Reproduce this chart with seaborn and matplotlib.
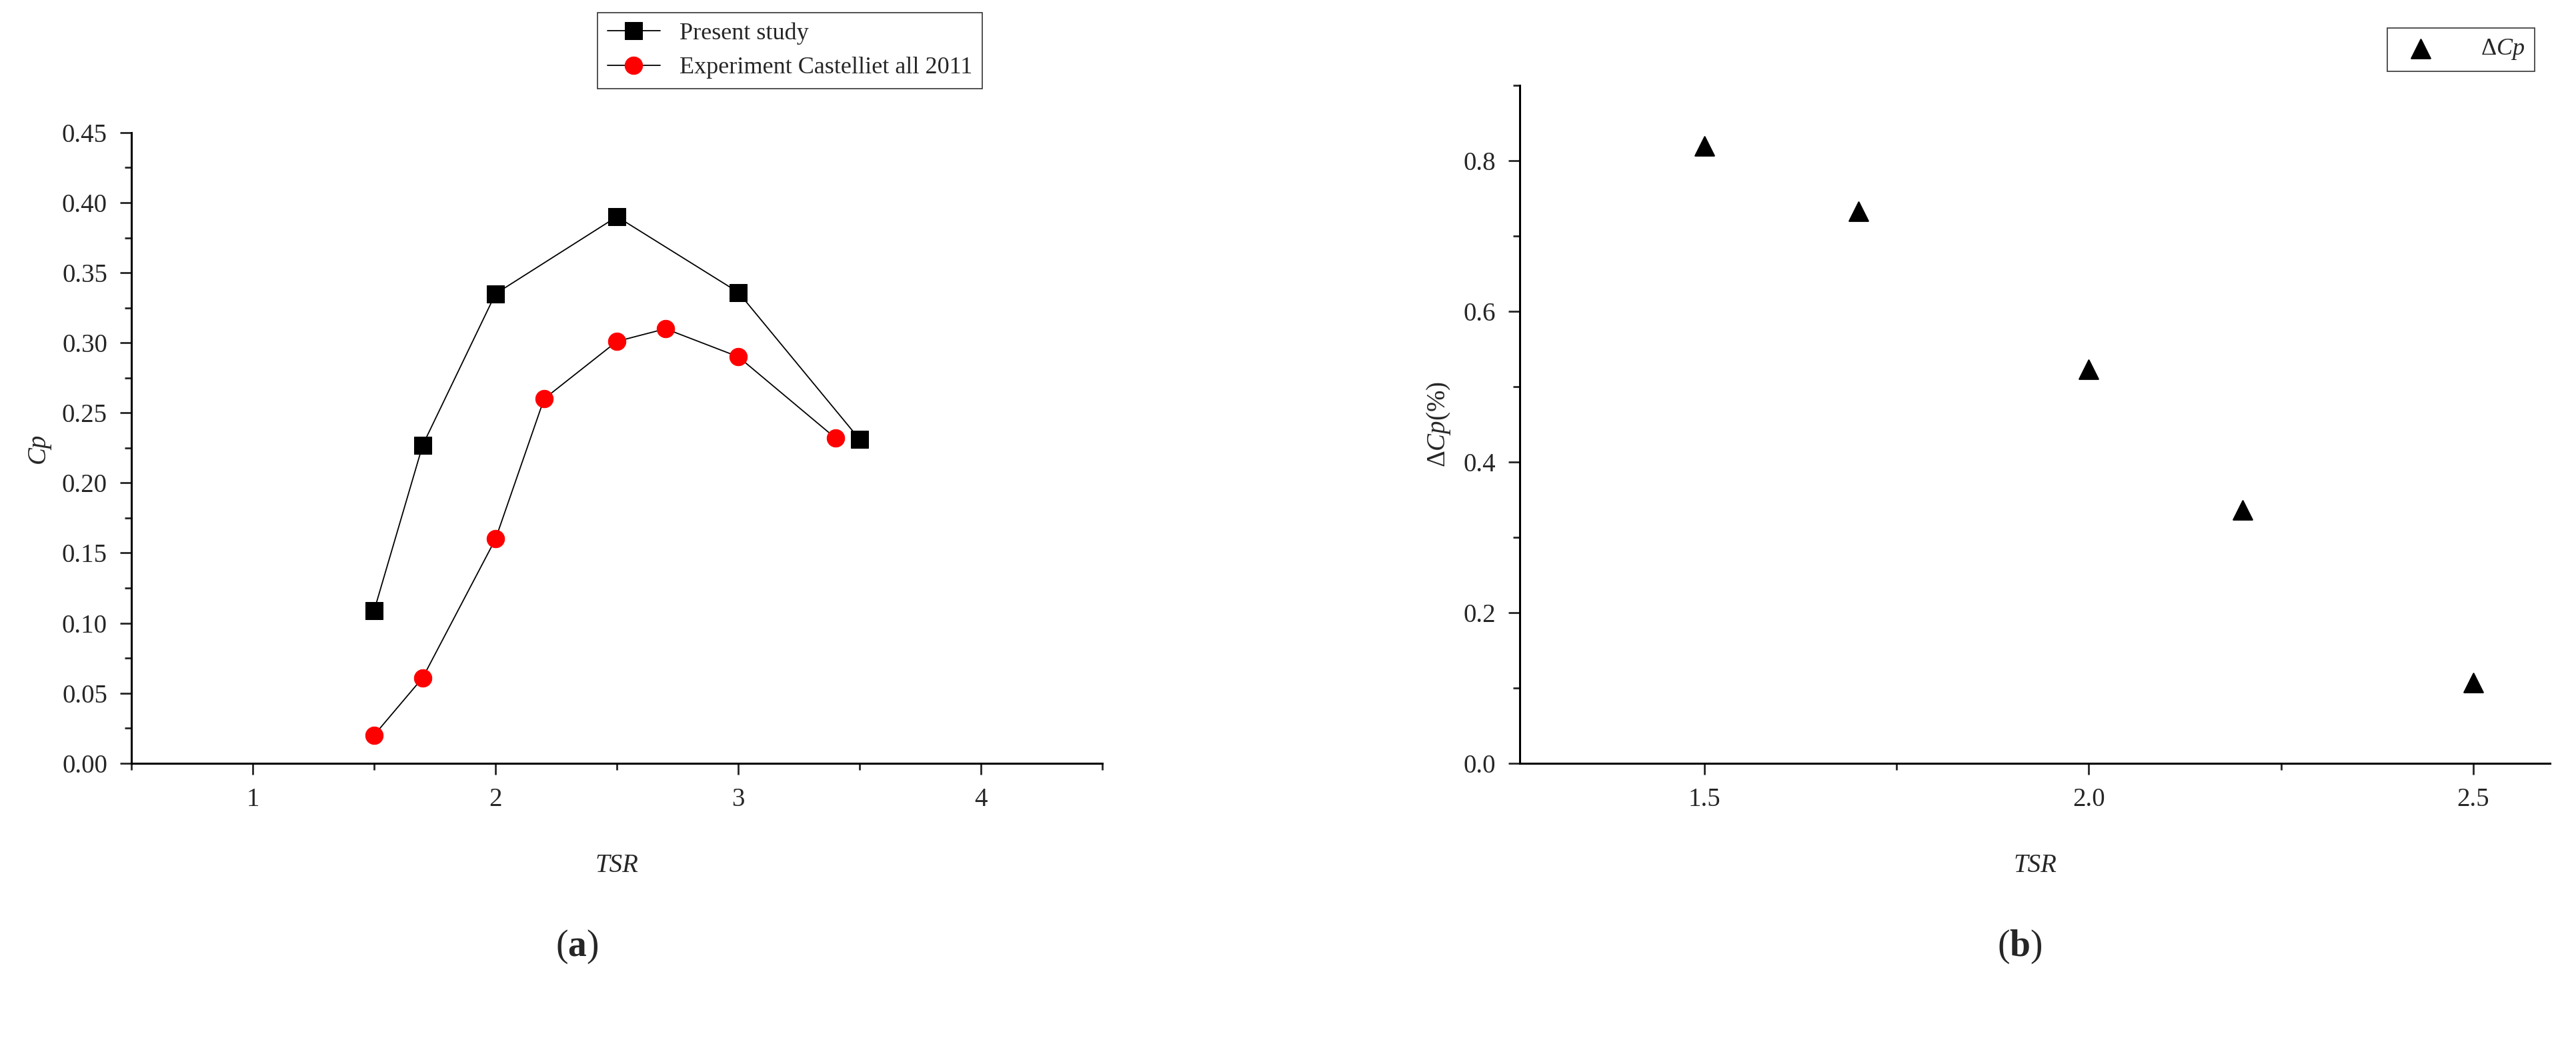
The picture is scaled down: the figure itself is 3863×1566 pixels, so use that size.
import matplotlib
matplotlib.use("Agg")
import matplotlib.pyplot as plt
import seaborn as sns
import pandas as pd
from matplotlib.ticker import MultipleLocator

tsr_present = [1.5, 1.7, 2.0, 2.5, 3.0, 3.5]
cp_present = [0.109, 0.227, 0.335, 0.390, 0.336, 0.231]
tsr_exp = [1.5, 1.7, 2.0, 2.2, 2.5, 2.7, 3.0, 3.4]
cp_exp = [0.020, 0.061, 0.160, 0.260, 0.301, 0.310, 0.290, 0.232]
tsr_d = [1.5, 1.7, 2.0, 2.2, 2.5]
dcp = [0.820, 0.733, 0.523, 0.336, 0.107]

sns.set_style("ticks")
plt.rcParams['font.family'] = ['Liberation Serif', 'DejaVu Serif']
plt.rcParams['mathtext.fontset'] = 'custom'
plt.rcParams['mathtext.rm'] = 'Liberation Serif'
plt.rcParams['mathtext.it'] = 'Liberation Serif:italic'
plt.rcParams['mathtext.bf'] = 'Liberation Serif:bold'

fig = plt.figure(figsize=(38.63, 15.66), dpi=100)
ax1 = fig.add_axes([0.051, 0.269, 0.377, 0.604])
ax2 = fig.add_axes([0.590, 0.269, 0.400, 0.649])

FS = 28
df1 = pd.DataFrame({"TSR": tsr_present, "Cp": cp_present})
df2 = pd.DataFrame({"TSR": tsr_exp, "Cp": cp_exp})
sns.lineplot(data=df1, x="TSR", y="Cp", ax=ax1, color="black", lw=1.3,
             marker="s", markersize=19, markeredgecolor="black", label="Present study")
sns.lineplot(data=df2, x="TSR", y="Cp", ax=ax1, color="black", lw=1.3,
             marker="o", markersize=19, markerfacecolor="red", markeredgecolor="red",
             label="Experiment Castelliet all 2011")
ax1.set_xlim(0.5, 4.5)
ax1.set_ylim(0, 0.45)
ax1.xaxis.set_major_locator(MultipleLocator(1))
ax1.xaxis.set_minor_locator(MultipleLocator(0.5))
ax1.yaxis.set_major_locator(MultipleLocator(0.05))
ax1.yaxis.set_minor_locator(MultipleLocator(0.025))
ax1.yaxis.set_major_formatter(matplotlib.ticker.FormatStrFormatter('%.2f'))
ax1.set_xlabel("TSR", fontsize=FS, style="italic", labelpad=45)
ax1.set_ylabel("Cp", fontsize=FS, style="italic", labelpad=12)
leg = ax1.legend(loc="upper left", bbox_to_anchor=(0.48, 1.19), fontsize=FS - 2,
                 frameon=True, fancybox=False, edgecolor="black", handlelength=2.2,
                 borderaxespad=0)
leg.get_frame().set_linewidth(1.2)

df3 = pd.DataFrame({"TSR": tsr_d, "dCp": dcp})
sns.scatterplot(data=df3, x="TSR", y="dCp", ax=ax2, marker="^", s=420,
                color="black", edgecolor="black", label=r"$\mathit{\Delta Cp}$")
ax2.set_xlim(1.26, 2.60)
ax2.set_ylim(0, 0.9)
ax2.xaxis.set_major_locator(MultipleLocator(0.5))
ax2.xaxis.set_minor_locator(MultipleLocator(0.25))
ax2.yaxis.set_major_locator(MultipleLocator(0.2))
ax2.yaxis.set_minor_locator(MultipleLocator(0.1))
ax2.xaxis.set_major_formatter(matplotlib.ticker.FormatStrFormatter('%.1f'))
ax2.yaxis.set_major_formatter(matplotlib.ticker.FormatStrFormatter('%.1f'))
ax2.set_xlabel("TSR", fontsize=FS, style="italic", labelpad=45)
ax2.set_ylabel(r"$\mathit{\Delta Cp(\%)}$", fontsize=FS, labelpad=12)
leg2 = ax2.legend(loc="upper right", bbox_to_anchor=(0.985, 1.085), fontsize=FS - 2,
                  frameon=True, fancybox=False, edgecolor="black", handletextpad=1.5,
                  borderaxespad=0)
leg2.get_frame().set_linewidth(1.2)

for ax in (ax1, ax2):
    sns.despine(ax=ax)
    for s in ("left", "bottom"):
        ax.spines[s].set_linewidth(2.2)
        ax.spines[s].set_color("black")
    ax.tick_params(which="major", direction="out", length=12, width=2, labelsize=FS, pad=14)
    ax.tick_params(which="minor", direction="out", length=7, width=2)

fig.text(0.224, 0.093, r"($\mathbf{a}$)", fontsize=40, ha="center", va="center")
fig.text(0.784, 0.093, r"($\mathbf{b}$)", fontsize=40, ha="center", va="center")

fig.savefig("out.png", dpi=100)
